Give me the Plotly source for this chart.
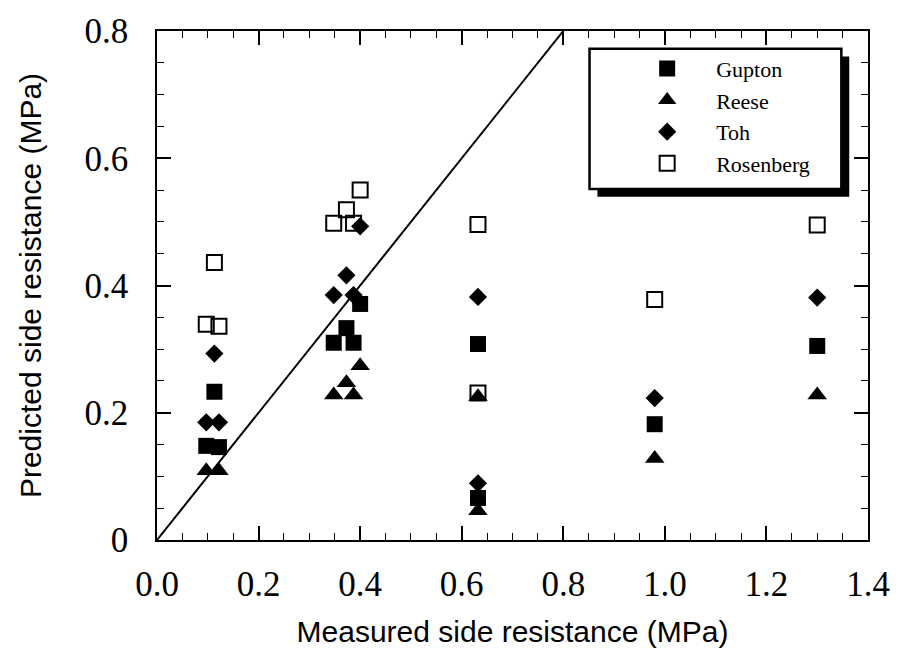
import plotly.graph_objects as go

# ---- data ----
gupton_x = [0.097, 0.122, 0.113, 0.348, 0.387, 0.373, 0.400, 0.632, 0.632, 0.98, 1.30]
gupton_y = [0.148, 0.146, 0.233, 0.310, 0.310, 0.333, 0.371, 0.308, 0.066, 0.182, 0.305]

reese_x = [0.097, 0.122, 0.348, 0.387, 0.373, 0.400, 0.632, 0.632, 0.98, 1.30]
reese_y = [0.109, 0.109, 0.228, 0.228, 0.247, 0.274, 0.225, 0.046, 0.128, 0.228]

toh_x = [0.097, 0.122, 0.113, 0.348, 0.387, 0.373, 0.400, 0.632, 0.632, 0.98, 1.30]
toh_y = [0.185, 0.185, 0.293, 0.385, 0.385, 0.416, 0.493, 0.382, 0.089, 0.223, 0.381]

rosen_x = [0.097, 0.122, 0.113, 0.348, 0.387, 0.373, 0.400, 0.632, 0.632, 0.98, 1.30]
rosen_y = [0.339, 0.336, 0.436, 0.498, 0.498, 0.519, 0.550, 0.496, 0.231, 0.378, 0.495]

line_x = [0.0, 0.8]
line_y = [0.0, 0.8]

x_ticks = [0.0, 0.2, 0.4, 0.6, 0.8, 1.0, 1.2, 1.4]
y_ticks = [0, 0.2, 0.4, 0.6, 0.8]

serif = "Liberation Serif, Times New Roman, serif"
sans = "Liberation Sans, Arial, sans-serif"

fig = go.Figure()
fig.add_trace(go.Scatter(x=line_x, y=line_y, mode="lines",
                         line=dict(color="black", width=2), showlegend=False, hoverinfo="skip"))
fig.add_trace(go.Scatter(x=rosen_x, y=rosen_y, mode="markers", name="Rosenberg", legendrank=4,
                         marker=dict(symbol="square-open", size=15, color="black",
                                     line=dict(width=2, color="black"))))
fig.add_trace(go.Scatter(x=gupton_x, y=gupton_y, mode="markers", name="Gupton", legendrank=1,
                         marker=dict(symbol="square", size=16, color="black")))
fig.add_trace(go.Scatter(x=reese_x, y=reese_y, mode="markers", name="Reese", legendrank=2,
                         marker=dict(symbol="triangle-up", size=17, color="black")))
fig.add_trace(go.Scatter(x=toh_x, y=toh_y, mode="markers", name="Toh", legendrank=3,
                         marker=dict(symbol="diamond", size=14, color="black")))

L, R, T, B = 157, 25, 24, 112
W, H = 902, 655
pw, ph = W - L - R, H - T - B

def px(xpix):
    return (xpix - L) / pw

def py(ypix):
    return 1 - (ypix - T) / ph

shapes = [
    dict(type="rect", xref="paper", yref="paper", x0=px(603), x1=px(858), y0=py(193), y1=py(50),
         fillcolor="black", line=dict(width=0), layer="above"),
    dict(type="rect", xref="paper", yref="paper", x0=px(595), x1=px(850), y0=py(185), y1=py(42),
         fillcolor="white", line=dict(width=2.5, color="black"), layer="above"),
]

axis_common = dict(
    showline=True, linecolor="black", linewidth=1.5, mirror="allticks",
    ticks="inside", ticklen=14, tickwidth=1.5, tickcolor="black",
    showgrid=False, zeroline=False,
    tickfont=dict(family=serif, size=35, color="black"),
    minor=dict(ticks="inside", ticklen=7, tickwidth=1.2, tickcolor="black", dtick=0.05, showgrid=False),
)

fig.update_layout(
    width=W, height=H,
    margin=dict(l=L, r=R, t=T, b=B),
    paper_bgcolor="white", plot_bgcolor="white",
    shapes=shapes,
    showlegend=True,
    legend=dict(x=px(624), y=py(41), xanchor="left", yanchor="top",
                bgcolor="rgba(0,0,0,0)", borderwidth=0,
                font=dict(family=serif, size=22, color="black"),
                itemwidth=88, tracegroupgap=0),
    xaxis=dict(range=[0, 1.4], tickvals=x_ticks, tickformat=".1f",
               title=dict(text="Measured side resistance (MPa)", font=dict(family=sans, size=30, color="black"),
                          standoff=18),
               ticklabelstandoff=12,
               **axis_common),
    yaxis=dict(range=[0, 0.8], tickvals=y_ticks,
               title=dict(text="Predicted side resistance (MPa)", font=dict(family=sans, size=30, color="black"),
                          standoff=34),
               ticklabelstandoff=20,
               **axis_common),
)

fig.write_html("out.html")
